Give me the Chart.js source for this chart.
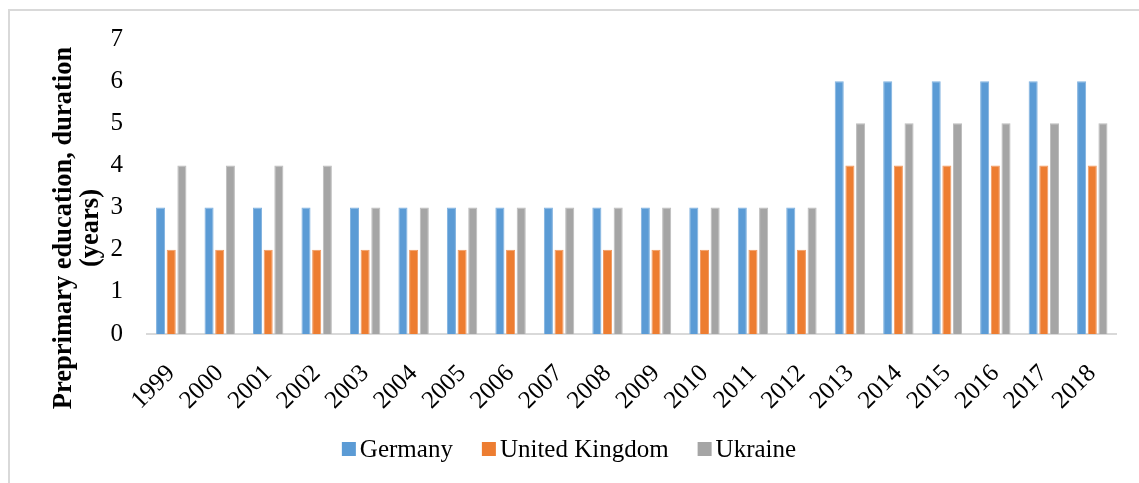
<!DOCTYPE html>
<html>
<head>
<meta charset="utf-8">
<script src="https://cdn.jsdelivr.net/npm/chart.js@4.4.1/dist/chart.umd.min.js"></script>
<style>
  html, body { margin: 0; padding: 0; background: #ffffff; overflow: hidden; }
  #frame { position: absolute; left: 8px; top: 9px; width: 1200px; height: 600px; border: 2px solid #d9d9d9; box-sizing: border-box; }
  #wrap { position: absolute; left: 0; top: 0; width: 1139px; height: 483px; }
</style>
</head>
<body>
<div id="frame"></div>
<div id="wrap"><canvas id="c" width="1139" height="483"></canvas></div>
<script>
const years = ['1999','2000','2001','2002','2003','2004','2005','2006','2007','2008','2009','2010','2011','2012','2013','2014','2015','2016','2017','2018'];
const germany = [3,3,3,3,3,3,3,3,3,3,3,3,3,3,6,6,6,6,6,6];
const unitedKingdom = [2,2,2,2,2,2,2,2,2,2,2,2,2,2,4,4,4,4,4,4];
const ukraine = [4,4,4,4,3,3,3,3,3,3,3,3,3,3,5,5,5,5,5,5];
const seriesNames = ['Germany','United Kingdom','Ukraine'];
const yTitleLines = ['Preprimary education, duration', '(years)'];

const FONT = "'Liberation Serif', 'Times New Roman', serif";
const colors = ['#5b9bd5', '#ed7d31', '#a5a5a5'];
const edge = ['#7fb1df', '#f19a62', '#bcbcbc'];

const yTitlePlugin = {
  id: 'yTitle',
  afterDraw(chart) {
    const ctx = chart.ctx;
    ctx.save();
    ctx.fillStyle = '#000';
    ctx.font = 'bold 26.5px ' + FONT;
    ctx.textAlign = 'center';
    ctx.textBaseline = 'middle';
    const cy = 228;
    const xs = [64, 91];
    yTitleLines.forEach((t, i) => {
      ctx.save();
      ctx.translate(xs[i], cy);
      ctx.rotate(-Math.PI / 2);
      ctx.fillText(t, 0, 0);
      ctx.restore();
    });
    ctx.restore();
  }
};

const legendPlugin = {
  id: 'customLegend',
  afterDraw(chart) {
    const ctx = chart.ctx;
    ctx.save();
    ctx.font = '25px ' + FONT;
    ctx.textBaseline = 'middle';
    ctx.textAlign = 'left';
    const box = 14, gapText = 4, gapItem = 29, cy = 449;
    const ds = chart.data.datasets;
    const widths = ds.map(d => box + gapText + ctx.measureText(d.label).width);
    const total = widths.reduce((a, b) => a + b, 0) + gapItem * (ds.length - 1);
    let x = 569 - total / 2;
    ds.forEach((d, i) => {
      ctx.fillStyle = d.backgroundColor;
      ctx.fillRect(x, cy - box / 2, box, box);
      ctx.fillStyle = '#000';
      ctx.fillText(d.label, x + box + gapText, cy + 1);
      x += widths[i] + gapItem;
    });
    ctx.restore();
  }
};

new Chart(document.getElementById('c'), {
  type: 'bar',
  data: {
    labels: years,
    datasets: [
      { label: seriesNames[0], data: germany, backgroundColor: colors[0], borderColor: edge[0], borderWidth: 1 },
      { label: seriesNames[1], data: unitedKingdom, backgroundColor: colors[1], borderColor: edge[1], borderWidth: 1 },
      { label: seriesNames[2], data: ukraine, backgroundColor: colors[2], borderColor: edge[2], borderWidth: 1 }
    ]
  },
  options: {
    responsive: false,
    animation: false,
    layout: { padding: { left: 10, right: 20, top: 37, bottom: 49 } },
    datasets: { bar: { categoryPercentage: 0.66, barPercentage: 0.85 } },
    plugins: {
      legend: { display: false },
      tooltip: { enabled: false },
      title: { display: false }
    },
    scales: {
      x: {
        grid: { display: false, drawTicks: false },
        border: { display: true, color: '#d9d9d9', width: 2 },
        ticks: { color: '#000', font: { family: FONT, size: 25 }, minRotation: 45, maxRotation: 45, autoSkip: false, padding: 25 },
        afterFit(axis) { axis.height = 100; }
      },
      y: {
        min: 0, max: 7,
        grid: { display: false, drawTicks: false },
        border: { display: false },
        ticks: { stepSize: 1, color: '#000', font: { family: FONT, size: 25 }, padding: 24 },
        afterFit(axis) { axis.width = 137; }
      }
    }
  },
  plugins: [yTitlePlugin, legendPlugin]
});
</script>
</body>
</html>
